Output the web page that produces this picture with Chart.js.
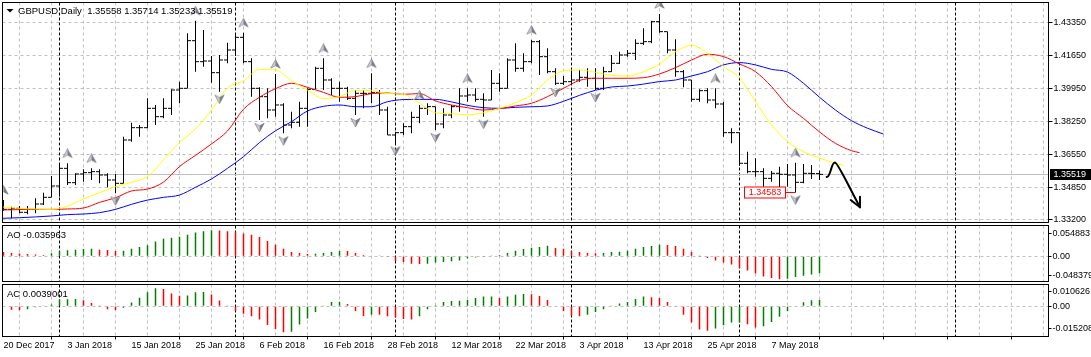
<!DOCTYPE html>
<html><head><meta charset="utf-8">
<script src="https://cdn.jsdelivr.net/npm/chart.js@4.4.0/dist/chart.umd.min.js"></script>
<style>
html,body{margin:0;padding:0;background:#fff;overflow:hidden}
#wrap{position:relative;width:1091px;height:357px;background:#fff}
canvas{position:absolute;left:0}
</style></head><body>
<div id="wrap">
<canvas id="cMain" width="1091" height="224" style="top:0"></canvas>
<canvas id="cAO" width="1091" height="59" style="top:224px"></canvas>
<canvas id="cAC" width="1091" height="74" style="top:283px"></canvas>
</div>
<script>
// ---------------- DATA ----------------
const symbolName = 'GBPUSD';
const timeframe = 'Daily';
const timeLabels = ['20 Dec 2017','3 Jan 2018','15 Jan 2018','25 Jan 2018','6 Feb 2018','16 Feb 2018','28 Feb 2018','12 Mar 2018','22 Mar 2018','3 Apr 2018','13 Apr 2018','25 Apr 2018','7 May 2018'];
const labelStep = 8;
const priceTicks = [1.43350, 1.41650, 1.39950, 1.38250, 1.36550, 1.34850, 1.33200];
const monthStarts = [7, 29, 49, 71, 92, 119];

const opens = [1.33936,1.33712,1.33764,1.33557,1.33712,1.33988,1.34332,1.34917,1.35829,1.35089,
 1.35537,1.35606,1.35657,1.35485,1.35227,1.35055,1.37293,1.37929,1.37929,1.38928,
 1.38497,1.38928,1.39874,1.39961,1.42422,1.41338,1.41372,1.40770,1.41424,1.41940,
 1.42594,1.41338,1.39961,1.39530,1.38842,1.39100,1.38067,1.38205,1.38928,1.39909,
 1.40994,1.40391,1.39961,1.39961,1.39444,1.39702,1.39702,1.39737,1.38842,1.37551,
 1.37671,1.37981,1.38463,1.38928,1.39014,1.38119,1.38584,1.39014,1.39565,1.39616,
 1.39393,1.39358,1.40219,1.39961,1.41424,1.40994,1.41338,1.42370,1.41596,1.40821,
 1.40219,1.40305,1.40391,1.40529,1.40477,1.39961,1.40821,1.41252,1.41682,1.41768,
 1.42284,1.42370,1.43403,1.42887,1.41940,1.40821,1.40391,1.39393,1.39840,1.39358,
 1.39152,1.37671,1.37671,1.36088,1.35657,1.35657,1.35313,1.35571,1.35520,1.35485,
 1.35106,1.35571,1.35558];
const highs = [1.34194,1.33850,1.33884,1.33884,1.34280,1.34573,1.35434,1.36088,1.36088,1.35571,
 1.35778,1.35829,1.35778,1.35571,1.35537,1.37465,1.38188,1.38067,1.39444,1.39100,
 1.39444,1.39909,1.40305,1.42801,1.43455,1.42973,1.41630,1.41682,1.42319,1.42801,
 1.42835,1.41510,1.40012,1.39961,1.40701,1.39186,1.38756,1.39272,1.39961,1.41080,
 1.41510,1.40477,1.40305,1.40047,1.39874,1.39874,1.40735,1.39874,1.39014,1.37723,
 1.38153,1.38756,1.39100,1.39186,1.39014,1.38928,1.39100,1.39961,1.39961,1.39961,
 1.39702,1.40907,1.40735,1.41510,1.42284,1.41768,1.42456,1.42456,1.42026,1.40994,
 1.40597,1.40907,1.40907,1.40994,1.40994,1.41080,1.41682,1.41854,1.41940,1.42491,
 1.43059,1.43455,1.43799,1.42887,1.42491,1.40907,1.40391,1.39909,1.39961,1.39961,
 1.39272,1.37895,1.37671,1.36690,1.36346,1.35829,1.35692,1.35915,1.36053,1.36122,
 1.36053,1.36002,1.35714];
const lows = [1.33643,1.33247,1.33506,1.33454,1.33506,1.33936,1.34332,1.34366,1.34969,1.34969,
 1.35141,1.35227,1.35055,1.34848,1.34538,1.35055,1.37206,1.37465,1.37895,1.38067,
 1.38411,1.38584,1.39186,1.39961,1.40821,1.41080,1.40253,1.39788,1.41252,1.41630,
 1.41252,1.39530,1.38325,1.38411,1.38497,1.37637,1.37895,1.37981,1.37981,1.39909,
 1.39874,1.39616,1.39272,1.39358,1.38584,1.38928,1.39186,1.38584,1.37551,1.37120,
 1.37551,1.37637,1.38153,1.38584,1.37809,1.37895,1.38411,1.38756,1.39272,1.39272,
 1.38497,1.39358,1.39788,1.39961,1.40821,1.40821,1.41252,1.40649,1.40735,1.40133,
 1.40133,1.40219,1.40305,1.40047,1.39874,1.39874,1.40821,1.41217,1.41596,1.41424,
 1.42198,1.42284,1.42835,1.41768,1.40563,1.40012,1.39272,1.39272,1.39186,1.38928,
 1.37465,1.37120,1.35967,1.35571,1.35399,1.34883,1.35141,1.34797,1.34883,1.34583,
 1.35055,1.35279,1.35233];
const closes = [1.33712,1.33764,1.33557,1.33712,1.33988,1.34332,1.34917,1.35829,1.35089,1.35537,
 1.35606,1.35657,1.35485,1.35227,1.35055,1.37293,1.37929,1.37929,1.38928,1.38497,
 1.38928,1.39874,1.39961,1.42422,1.41338,1.41372,1.40770,1.41424,1.41940,1.42594,
 1.41338,1.39961,1.39530,1.38842,1.39100,1.38067,1.38205,1.38928,1.39909,1.40994,
 1.40391,1.39961,1.39961,1.39444,1.39702,1.39702,1.39737,1.38842,1.37551,1.37671,
 1.37981,1.38463,1.38928,1.39014,1.38119,1.38584,1.39014,1.39565,1.39616,1.39393,
 1.39358,1.40219,1.39961,1.41424,1.40994,1.41338,1.42370,1.41596,1.40821,1.40219,
 1.40305,1.40391,1.40529,1.40477,1.39961,1.40821,1.41252,1.41682,1.41768,1.42284,
 1.42370,1.43403,1.42887,1.41940,1.40821,1.40391,1.39393,1.39840,1.39358,1.39152,
 1.37671,1.37671,1.36088,1.35657,1.35657,1.35313,1.35571,1.35520,1.35485,1.35106,
 1.35571,1.35558,1.35519];

// Alligator lines, sampled every 2 bars from bar -2; last value sits at the line's end bar
const lineStart = -2, lineStep = 2;
const lipsEnd = 105, teethEnd = 107, jawEnd = 110;
const lipsValues = [1.3388,1.3383,1.3376,1.3373,1.3371,1.3388,1.3425,1.3457,1.3488,1.3511,1.3540,1.3626,1.3716,1.3786,1.3884,1.3998,1.4034,1.4094,1.4091,1.4036,1.3987,1.3944,1.3953,1.3986,1.3984,1.3969,1.3965,1.3919,1.3870,1.3865,1.3860,1.3870,1.3893,1.3922,1.3962,1.4039,1.4087,1.4091,1.4079,1.4063,1.4060,1.4082,1.4122,1.4185,1.4218,1.4177,1.4108,1.4051,1.3927,1.3807,1.3721,1.3669,1.3636,1.3609,1.3598];
const teethValues = [1.3368,1.3368,1.3370,1.3371,1.3371,1.3373,1.3378,1.3407,1.3431,1.3466,1.3476,1.3512,1.3592,1.3650,1.3709,1.3776,1.3888,1.3950,1.3994,1.4022,1.4001,1.3975,1.3950,1.3953,1.3969,1.3972,1.3965,1.3969,1.3931,1.3910,1.3896,1.3884,1.3891,1.3905,1.3919,1.3953,1.3996,1.4037,1.4048,1.4048,1.4048,1.4051,1.4070,1.4103,1.4142,1.4172,1.4160,1.4122,1.4082,1.4005,1.3907,1.3841,1.3771,1.3712,1.3674,1.3664];
const jawValues = [1.3323,1.3325,1.3328,1.3332,1.3337,1.3344,1.3347,1.3354,1.3371,1.3397,1.3419,1.3433,1.3445,1.3485,1.3528,1.3583,1.3643,1.3716,1.3777,1.3824,1.3879,1.3903,1.3910,1.3901,1.3901,1.3927,1.3938,1.3939,1.3939,1.3926,1.3908,1.3896,1.3893,1.3898,1.3901,1.3905,1.3929,1.3960,1.3986,1.4003,1.4008,1.4018,1.4031,1.4039,1.4060,1.4082,1.4117,1.4129,1.4117,1.4094,1.4080,1.4022,1.3950,1.3884,1.3829,1.3790,1.3760];

const fractalUp = [0, 8, 11, 24, 30, 34, 40, 46, 52, 58, 66, 82, 89, 99];
const fractalDown = [14, 27, 32, 35, 44, 49, 54, 60, 69, 74, 99];
const markedLowIndex = 99;

const aoValues = [0.0091,0.0072,0.0058,0.0047,0.0038,0.0030,0.0065,0.0105,0.0126,0.0140,
 0.0154,0.0161,0.0140,0.0133,0.0112,0.0119,0.0161,0.0196,0.0231,0.0315,
 0.0371,0.0392,0.0413,0.0455,0.0504,0.0532,0.054883,0.0545,0.0532,0.0518,
 0.0483,0.0455,0.0406,0.0322,0.0245,0.0161,0.0091,0.0070,0.0049,0.0052,
 0.0070,0.0091,0.0112,0.0110,0.0070,0.0028,0.0014,0.0004,-0.0005,-0.0100,
 -0.0120,-0.0160,-0.0163,-0.0158,-0.0133,-0.0120,-0.0105,-0.0090,-0.0048,-0.0027,
 -0.0005,0.0007,0.0028,0.0070,0.0119,0.0154,0.0182,0.0196,0.0224,0.0175,
 0.0161,0.0112,0.0091,0.0070,0.0063,0.0068,0.0091,0.0098,0.0119,0.0161,
 0.0196,0.0217,0.0245,0.0240,0.0217,0.0161,0.0091,0.0003,-0.0035,-0.0091,
 -0.0133,-0.0175,-0.0245,-0.0301,-0.0364,-0.0427,-0.0460,-0.048379,-0.0475,-0.0440,
 -0.0410,-0.0385,-0.035963];
const acValues = [-0.0003,-0.0020,-0.0022,-0.0018,-0.0006,0.0002,0.0010,0.0040,0.0042,0.0043,
 0.0036,0.0020,0.0001,-0.0018,-0.0022,-0.0008,0.0022,0.0050,0.0082,0.010626,
 0.0102,0.0076,0.0062,0.0064,0.0082,0.0084,0.0070,0.0034,0.0001,-0.0027,
 -0.0044,-0.0058,-0.0078,-0.0110,-0.0134,-0.015208,-0.0150,-0.0107,-0.0072,-0.0033,
 0.0004,0.0025,0.0027,0.0014,-0.0027,-0.0057,-0.0049,-0.0050,-0.0058,-0.0066,
 -0.0074,-0.0078,-0.0058,-0.0018,0.0006,0.0025,0.0031,0.0032,0.0037,0.0049,
 0.0057,0.0058,0.0049,0.0057,0.0068,0.0072,0.0071,0.0060,0.0037,-0.0002,
 -0.0027,-0.0055,-0.0058,-0.0049,-0.0033,-0.0018,0.0002,0.0016,0.0025,0.0043,
 0.0057,0.0053,0.0049,0.0025,-0.0001,-0.0049,-0.0096,-0.0137,-0.0144,-0.0131,
 -0.0111,-0.0096,-0.0095,-0.0105,-0.0125,-0.0117,-0.0092,-0.0062,-0.0027,-0.0003,
 0.0024,0.0036,0.0039001];

// hand-drawn arrow annotation, in (bar, price) coordinates
const sketchArrow = [[102.9,1.35382],[103.44,1.35382],[103.44,1.36157],[103.94,1.36131],[104.31,1.36105],[105.56,1.34969],[107.06,1.33817]];
const sketchHead = [[105.9,1.34194],[107.06,1.33817],[107.06,1.34365]];

// ---------------- LAYOUT / STYLE ----------------
const X_MIN = -0.125, X_MAX = 130.625;
const AXIS_W = 42.5, TIME_AXIS_H = 20.5;
const PRICE_MIN = 1.33032, PRICE_MAX = 1.44393;
const AO_MIN = -0.05328, AO_MAX = 0.06512;
const AC_MIN = -0.017765, AC_MAX = 0.012824;
const HIST_WIDTH = 1.5;
const GRID_COLOR = '#c0c0c0';
const UP_COLOR = '#008000', DOWN_COLOR = '#ff0000';
const FONT = "'Liberation Sans', Arial, sans-serif";
const gridIdx = []; for (let v = 4; v <= 128; v += 4) gridIdx.push(v);

Chart.defaults.font.family = FONT;
Chart.defaults.font.size = 9;
Chart.defaults.color = '#000';
Chart.defaults.animation = false;
Chart.defaults.plugins.legend.display = false;
Chart.defaults.plugins.tooltip.enabled = false;

function xAxis(withLabels) {
  return {
    type: 'linear', min: X_MIN, max: X_MAX, offset: false,
    afterBuildTicks: s => { s.ticks = (withLabels ? [0].concat(gridIdx) : gridIdx).map(v => ({value: v})); },
    afterFit: s => { s.height = withLabels ? TIME_AXIS_H : 0; s.paddingLeft = 0; s.paddingRight = 0; s.paddingTop = 0; s.paddingBottom = 0; },
    border: {display: false, dash: [3, 3]},
    grid: {
      color: c => (c.tick && c.tick.value === 0) ? 'rgba(0,0,0,0)' : GRID_COLOR,
      lineWidth: 1, drawTicks: withLabels, tickLength: 3, tickWidth: 1,
      tickColor: c => (c.tick && c.tick.value % labelStep === 0) ? '#000' : 'rgba(0,0,0,0)'
    },
    ticks: {
      display: withLabels, autoSkip: false, maxRotation: 0, minRotation: 0, align: 'start', padding: 1.1,
      callback: v => (v % labelStep === 0) ? (timeLabels[v / labelStep] || '') : '',
      font: {size: 9, family: FONT}, color: '#000'
    }
  };
}
function subYAxis(min, max) {
  return {
    type: 'linear', position: 'right', min, max,
    afterBuildTicks: s => { s.ticks = [{value: 0}]; },
    afterFit: s => { s.width = AXIS_W; s.paddingTop = 0; s.paddingBottom = 0; },
    border: {display: false, dash: [3, 3]},
    grid: {color: GRID_COLOR, lineWidth: 1, drawTicks: false},
    ticks: {display: false}
  };
}
// histogram split into rising / falling bars (colour rule of the AO/AC indicators)
const risingBars = vals => vals.map((v, i) => ({x: i, y: (i > 0 && v > vals[i - 1]) ? v : null}));
const fallingBars = vals => vals.map((v, i) => ({x: i, y: (i > 0 && v > vals[i - 1]) ? null : v}));
const histDatasets = (vals, w) => [
  {type: 'bar', data: risingBars(vals), backgroundColor: UP_COLOR, borderWidth: 0, barThickness: w, inflateAmount: 0, grouped: false},
  {type: 'bar', data: fallingBars(vals), backgroundColor: DOWN_COLOR, borderWidth: 0, barThickness: w, inflateAmount: 0, grouped: false}
];
const linePoints = (vals, endIdx) => vals.map((v, k) => ({x: k === vals.length - 1 ? endIdx : lineStart + k * lineStep, y: v}));

function fractalImage(up) {
  const c = document.createElement('canvas');
  c.width = 11; c.height = 30;
  const g = c.getContext('2d');
  const cy = up ? 15 - 10 : 15 + 7.5;
  const s = up ? 1 : -1;
  const tip = [5.5, cy - 4.5 * s], notch = [5.5, cy + 1.8 * s];
  g.beginPath(); g.moveTo(tip[0], tip[1]); g.lineTo(0.8, cy + 4.2 * s); g.lineTo(notch[0], notch[1]); g.closePath();
  g.fillStyle = '#c9ccd6'; g.fill();
  g.beginPath(); g.moveTo(tip[0], tip[1]); g.lineTo(10.2, cy + 4.2 * s); g.lineTo(notch[0], notch[1]); g.closePath();
  g.fillStyle = '#7c7f88'; g.fill();
  g.beginPath(); g.moveTo(tip[0], tip[1]); g.lineTo(0.8, cy + 4.2 * s); g.lineTo(notch[0], notch[1]); g.lineTo(10.2, cy + 4.2 * s); g.closePath();
  g.strokeStyle = 'rgba(110,112,120,0.8)'; g.lineWidth = 0.7; g.stroke();
  return c;
}

const panelPlugin = {
  id: 'panel',
  beforeDatasetsDraw(chart) {
    const {ctx, chartArea: a, scales: {x}} = chart;
    ctx.save();
    ctx.strokeStyle = '#000'; ctx.lineWidth = 1; ctx.setLineDash([3, 2]);
    monthStarts.forEach(i => {
      const px = Math.round(x.getPixelForValue(i) - 0.5) + 0.5;
      if (px < a.left || px > a.right) return;
      ctx.beginPath(); ctx.moveTo(px, a.top); ctx.lineTo(px, a.bottom); ctx.stroke();
    });
    ctx.restore();
  },
  afterDraw(chart) {
    const {ctx, chartArea: a} = chart;
    ctx.save(); ctx.strokeStyle = '#000'; ctx.lineWidth = 1; ctx.setLineDash([]);
    ctx.strokeRect(a.left, a.top, a.right - a.left, a.bottom - a.top);
    ctx.restore();
  }
};

const last = closes.length - 1;
const fmt5 = v => v.toFixed(5);

const mainPlugin = {
  id: 'mainExtras',
  beforeDatasetsDraw(chart) {
    const {ctx, chartArea: a, scales: {y}} = chart;
    const py = Math.round(y.getPixelForValue(closes[last]) - 0.5) + 0.5;
    ctx.save(); ctx.strokeStyle = '#c0c0c0'; ctx.lineWidth = 1;
    ctx.beginPath(); ctx.moveTo(a.left, py); ctx.lineTo(a.right, py); ctx.stroke();
    ctx.restore();
  },
  afterDraw(chart) {
    const {ctx, chartArea: a, scales: {x, y}} = chart;
    ctx.save();
    // header
    ctx.fillStyle = '#000';
    ctx.beginPath(); ctx.moveTo(6.5, 9); ctx.lineTo(13.5, 9); ctx.lineTo(10, 12.5); ctx.closePath(); ctx.fill();
    ctx.font = '9.5px ' + FONT; ctx.textAlign = 'left'; ctx.textBaseline = 'alphabetic';
    ctx.fillText(symbolName + ',' + timeframe + '  ' + fmt5(opens[last]) + ' ' + fmt5(highs[last]) + ' ' + fmt5(lows[last]) + ' ' + fmt5(closes[last]), 18, 14);
    // current price box
    const py = y.getPixelForValue(closes[last]);
    ctx.fillStyle = '#000';
    ctx.fillRect(a.right + 1.5, Math.round(py) - 5, 41, 11);
    ctx.fillStyle = '#fff'; ctx.font = '9px ' + FONT; ctx.textBaseline = 'middle';
    ctx.fillText(fmt5(closes[last]), a.right + 5, Math.round(py) + 0.5);
    // marked low label
    const mi = markedLowIndex;
    const lx = x.getPixelForValue(mi), ly = Math.round(y.getPixelForValue(lows[mi])) + 0.5;
    const txt = fmt5(lows[mi]);
    ctx.font = '9px ' + FONT;
    const tw = ctx.measureText(txt).width;
    const bx1 = Math.round(lx - 10.5) + 0.5, bx0 = Math.round(bx1 - tw - 9) + 0.5;
    ctx.fillStyle = '#fff'; ctx.fillRect(bx0, ly - 5.5, bx1 - bx0, 11);
    ctx.strokeStyle = '#ff0000'; ctx.lineWidth = 1; ctx.strokeRect(bx0, ly - 5.5, bx1 - bx0, 11);
    ctx.beginPath(); ctx.moveTo(bx1, ly); ctx.lineTo(lx, ly); ctx.stroke();
    ctx.fillStyle = '#ff0000'; ctx.textBaseline = 'middle'; ctx.textAlign = 'center';
    ctx.fillText(txt, (bx0 + bx1) / 2, ly + 0.5);
    // sketch arrow
    const P = p => [x.getPixelForValue(p[0]), y.getPixelForValue(p[1])];
    const s = sketchArrow.map(P), h = sketchHead.map(P);
    ctx.strokeStyle = '#000'; ctx.lineWidth = 2; ctx.lineCap = 'round'; ctx.lineJoin = 'round';
    ctx.beginPath(); ctx.moveTo(s[0][0], s[0][1]);
    ctx.bezierCurveTo(s[1][0], s[1][1], s[2][0], s[2][1], s[3][0], s[3][1]);
    ctx.bezierCurveTo(s[4][0], s[4][1], s[5][0], s[5][1], s[6][0], s[6][1]);
    ctx.stroke();
    ctx.beginPath(); ctx.moveTo(h[0][0], h[0][1]); ctx.lineTo(h[1][0], h[1][1]); ctx.lineTo(h[2][0], h[2][1]); ctx.stroke();
    ctx.restore();
  }
};

function subPlugin(name, vals, digits) {
  return {
    id: 'sub' + name,
    afterDraw(chart) {
      const {ctx, chartArea: a, scales: {y}} = chart;
      const mx = Math.max(...vals), mn = Math.min(...vals);
      ctx.save();
      ctx.fillStyle = '#000'; ctx.textAlign = 'left';
      ctx.font = '9.5px ' + FONT; ctx.textBaseline = 'alphabetic';
      ctx.fillText(name + ' ' + vals[vals.length - 1].toFixed(digits), 7, 13.7);
      ctx.font = '9px ' + FONT; ctx.textBaseline = 'middle';
      const items = [[mx.toFixed(6), y.getPixelForValue(mx) + 3.5], ['0.00', y.getPixelForValue(0)], [mn.toFixed(6), y.getPixelForValue(mn) - 3.5]];
      ctx.strokeStyle = '#000'; ctx.lineWidth = 1;
      items.forEach(([t, py]) => {
        ctx.fillText(t, a.right + 4, py);
        const ry = Math.round(py - 0.5) + 0.5;
        ctx.beginPath(); ctx.moveTo(a.right, ry); ctx.lineTo(a.right + 3, ry); ctx.stroke();
      });
      ctx.restore();
    }
  };
}

const baseOptions = (padding) => ({
  responsive: false, devicePixelRatio: 1, animation: false, events: [],
  layout: {autoPadding: false, padding}
});

// ---------------- MAIN CHART ----------------
new Chart(document.getElementById('cMain'), {
  type: 'bar',
  data: {datasets: [
    {type: 'bar', data: highs.map((h, i) => ({x: i, y: [lows[i], h]})), backgroundColor: '#000', borderWidth: 0, barThickness: 1, inflateAmount: 0, order: 5},
    {type: 'scatter', data: opens.map((v, i) => ({x: i, y: v})), pointStyle: 'dash', pointRotation: 180, pointRadius: 3.5, pointBorderColor: '#000', pointBackgroundColor: '#000', pointBorderWidth: 1, order: 4},
    {type: 'scatter', data: closes.map((v, i) => ({x: i, y: v})), pointStyle: 'dash', pointRotation: 0, pointRadius: 3.5, pointBorderColor: '#000', pointBackgroundColor: '#000', pointBorderWidth: 1, order: 4},
    {type: 'line', data: linePoints(jawValues, jawEnd), borderColor: '#0000ff', borderWidth: 1, pointRadius: 0, fill: false, cubicInterpolationMode: 'monotone', order: 3.3},
    {type: 'line', data: linePoints(teethValues, teethEnd), borderColor: '#ff0000', borderWidth: 1, pointRadius: 0, fill: false, cubicInterpolationMode: 'monotone', order: 3.2},
    {type: 'line', data: linePoints(lipsValues, lipsEnd), borderColor: '#ffff00', borderWidth: 1, pointRadius: 0, fill: false, cubicInterpolationMode: 'monotone', order: 3.1},
    {type: 'scatter', data: fractalUp.map(i => ({x: i, y: highs[i]})), pointStyle: fractalImage(true), pointRadius: 5, order: 1},
    {type: 'scatter', data: fractalDown.map(i => ({x: i, y: lows[i]})), pointStyle: fractalImage(false), pointRadius: 5, order: 1}
  ]},
  options: Object.assign(baseOptions({left: 2.5, top: 2.5, right: 0, bottom: 1.5}), {
    scales: {
      x: xAxis(false),
      y: {
        type: 'linear', position: 'right', min: PRICE_MIN, max: PRICE_MAX,
        afterBuildTicks: s => { s.ticks = priceTicks.map(v => ({value: v})); },
        afterFit: s => { s.width = AXIS_W; s.paddingTop = 0; s.paddingBottom = 0; },
        border: {display: false, dash: [3, 3]},
        grid: {color: GRID_COLOR, lineWidth: 1, drawTicks: true, tickLength: 4, tickColor: '#000', tickWidth: 1},
        ticks: {padding: 1, callback: v => Number(v).toFixed(5), font: {size: 9, family: FONT}, color: '#000'}
      }
    }
  }),
  plugins: [panelPlugin, mainPlugin]
});

// ---------------- AO ----------------
new Chart(document.getElementById('cAO'), {
  type: 'bar',
  data: {datasets: histDatasets(aoValues, HIST_WIDTH)},
  options: Object.assign(baseOptions({left: 2.5, top: 1.5, right: 0, bottom: 1.5}), {
    scales: {x: xAxis(false), y: subYAxis(AO_MIN, AO_MAX)}
  }),
  plugins: [panelPlugin, subPlugin('AO', aoValues, 6)]
});

// ---------------- AC ----------------
new Chart(document.getElementById('cAC'), {
  type: 'bar',
  data: {datasets: histDatasets(acValues, HIST_WIDTH)},
  options: Object.assign(baseOptions({left: 2.5, top: 1.5, right: 0, bottom: 0}), {
    scales: {x: xAxis(true), y: subYAxis(AC_MIN, AC_MAX)}
  }),
  plugins: [panelPlugin, subPlugin('AC', acValues, 7)]
});
</script>
</body></html>
